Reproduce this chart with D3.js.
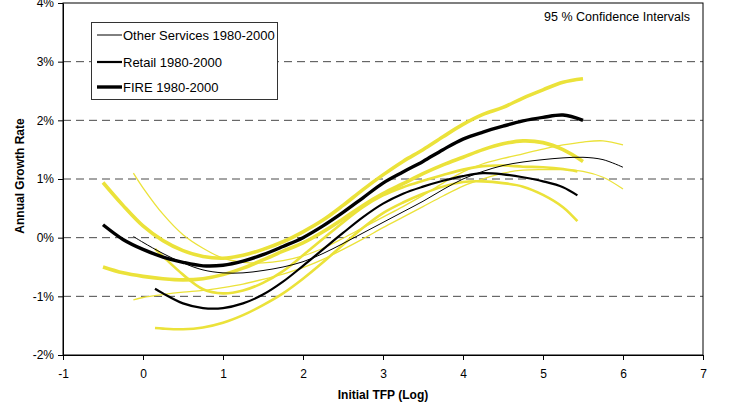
<!DOCTYPE html>
<html><head><meta charset="utf-8">
<script src="https://cdn.jsdelivr.net/npm/d3@7"></script>
<style>body{margin:0;background:#fff}svg{display:block;font-family:"Liberation Sans",Arial,sans-serif}</style>
</head><body><svg id="c" width="730" height="410"></svg>
<script>
// ---- data ----
const fireX  = [-0.5,-0.25,0,0.25,0.5,0.75,1,1.25,1.5,1.75,2,2.25,2.5,2.75,3,3.25,3.5,3.75,4,4.25,4.5,4.75,5,5.25,5.5];
const fire   = [0.22,-0.03,-0.2,-0.33,-0.42,-0.48,-0.47,-0.4,-0.29,-0.15,0.0,0.2,0.43,0.68,0.93,1.12,1.3,1.5,1.68,1.8,1.9,1.99,2.05,2.09,2.0];
const fireUp = [0.94,0.55,0.2,-0.05,-0.22,-0.32,-0.35,-0.3,-0.2,-0.07,0.1,0.3,0.55,0.82,1.07,1.3,1.5,1.72,1.93,2.1,2.22,2.38,2.52,2.65,2.71];
const fireLo = [-0.5,-0.6,-0.66,-0.7,-0.72,-0.7,-0.63,-0.52,-0.38,-0.23,-0.09,0.1,0.32,0.55,0.75,0.92,1.09,1.24,1.37,1.5,1.6,1.65,1.62,1.5,1.3];

const retailX  = [0.15,0.25,0.5,0.75,1,1.25,1.5,1.75,2,2.25,2.5,2.75,3,3.25,3.5,3.75,4,4.25,4.5,4.75,5,5.25,5.43];
const retail   = [-0.87,-0.95,-1.12,-1.2,-1.2,-1.12,-0.97,-0.75,-0.48,-0.2,0.08,0.35,0.58,0.75,0.87,0.97,1.05,1.1,1.08,1.03,0.96,0.86,0.72];
const retailUp = [-0.19,-0.32,-0.63,-0.88,-0.95,-0.9,-0.77,-0.57,-0.3,-0.02,0.26,0.52,0.72,0.86,0.97,1.07,1.16,1.22,1.23,1.21,1.2,1.17,1.13];
const retailLo = [-1.54,-1.55,-1.56,-1.53,-1.45,-1.32,-1.15,-0.95,-0.7,-0.42,-0.12,0.17,0.42,0.6,0.75,0.87,0.95,0.96,0.93,0.87,0.73,0.52,0.28];

const otherX  = [-0.12,0,0.25,0.5,0.75,1,1.25,1.5,1.75,2,2.25,2.5,2.75,3,3.25,3.5,3.75,4,4.25,4.5,4.75,5,5.25,5.5,5.75,6];
const other   = [0.02,-0.08,-0.27,-0.43,-0.55,-0.6,-0.6,-0.56,-0.5,-0.41,-0.27,-0.1,0.08,0.26,0.44,0.62,0.82,1.0,1.13,1.23,1.29,1.33,1.36,1.37,1.33,1.2];
const otherUp = [1.1,0.85,0.4,0.05,-0.18,-0.35,-0.42,-0.43,-0.39,-0.31,-0.18,-0.01,0.17,0.35,0.53,0.72,0.93,1.12,1.26,1.35,1.43,1.51,1.58,1.63,1.65,1.58];
const otherLo = [-1.06,-1.02,-0.97,-0.93,-0.9,-0.85,-0.79,-0.71,-0.62,-0.51,-0.37,-0.2,-0.02,0.17,0.35,0.53,0.71,0.88,1.0,1.1,1.15,1.16,1.16,1.13,1.03,0.83];

const xTicks = [-1,0,1,2,3,4,5,6,7];
const yTicks = [-2,-1,0,1,2,3,4];
const legendLabels = ["Other Services 1980-2000","Retail 1980-2000","FIRE 1980-2000"];
const ciLabel = "95 % Confidence Intervals";
const xTitle = "Initial TFP (Log)";
const yTitle = "Annual Growth Rate";

// ---- drawing ----
const svg = d3.select("#c");
const L = 63, R = 703, T = 3, B = 355;
const x = d3.scaleLinear().domain([-1,7]).range([L,R]);
const y = d3.scaleLinear().domain([-2,4]).range([B,T]);
const yellow = "#ebe23a";

// gridlines
svg.append("g").selectAll("line").data(yTicks.filter(d=>d>-2&&d<4)).join("line")
  .attr("x1",L).attr("x2",R).attr("y1",d=>y(d)).attr("y2",d=>y(d))
  .attr("stroke","#4a4a4a").attr("stroke-width",1).attr("stroke-dasharray","8,5");

// plot border
svg.append("rect").attr("x",L).attr("y",T).attr("width",R-L).attr("height",B-T)
  .attr("fill","none").attr("stroke","#000").attr("stroke-width",1);

const line = (xs) => d3.line().x((d,i)=>x(xs[i])).y(d=>y(d)).curve(d3.curveCatmullRom.alpha(0.5));

const series = [
  {xs: otherX, v: otherUp, c: yellow, w: 1.3},
  {xs: otherX, v: otherLo, c: yellow, w: 1.3},
  {xs: retailX, v: retailUp, c: yellow, w: 2.6},
  {xs: retailX, v: retailLo, c: yellow, w: 2.6},
  {xs: fireX, v: fireUp, c: yellow, w: 3.6},
  {xs: fireX, v: fireLo, c: yellow, w: 3.6},
  {xs: otherX, v: other, c: "#000", w: 1},
  {xs: retailX, v: retail, c: "#000", w: 2.2},
  {xs: fireX, v: fire, c: "#000", w: 3.4}
];
svg.append("g").selectAll("path").data(series).join("path")
  .attr("d", s => line(s.xs)(s.v))
  .attr("fill","none").attr("stroke",s=>s.c).attr("stroke-width",s=>s.w)
  .attr("stroke-linejoin","round").attr("stroke-linecap","butt");

// axes
const yAxis = d3.axisLeft(y).tickValues(yTicks).tickFormat(d=>d+"%").tickSize(5).tickSizeOuter(0);
const gy = svg.append("g").attr("transform",`translate(${L},0)`).call(yAxis);
const xAxis = d3.axisBottom(x).tickValues(xTicks).tickFormat(d=>d).tickSize(5).tickSizeOuter(0);
const gx = svg.append("g").attr("transform",`translate(0,${B})`).call(xAxis);
[gy,gx].forEach(g=>{
  g.select(".domain").attr("stroke","#000");
  g.selectAll(".tick line").attr("stroke","#000");
  g.selectAll("text").attr("fill","#000").attr("font-size","12px").attr("font-family","Liberation Sans, Arial, sans-serif");
});
gy.selectAll("text").attr("x",-9);
gx.selectAll("text").attr("y",14);

svg.append("text").attr("x",(L+R)/2).attr("y",399).attr("text-anchor","middle")
  .attr("font-size","12px").attr("font-weight","bold").text(xTitle);
svg.append("text").attr("transform","translate(24,176) rotate(-90)").attr("text-anchor","middle")
  .attr("font-size","12px").attr("font-weight","bold").text(yTitle);

svg.append("text").attr("x",690).attr("y",21).attr("text-anchor","end")
  .attr("font-size","12.5px").text(ciLabel);

// legend
const lg = svg.append("g");
lg.append("rect").attr("x",91.5).attr("y",22.5).attr("width",186).attr("height",77)
  .attr("fill","#fff").attr("stroke","#333").attr("stroke-width",1);
const lw = [1,2.2,3.4];
const ly = [35,62,87];
lg.selectAll("line").data(legendLabels).join("line")
  .attr("x1",97).attr("x2",122).attr("y1",(d,i)=>ly[i]).attr("y2",(d,i)=>ly[i])
  .attr("stroke","#000").attr("stroke-width",(d,i)=>lw[i]);
lg.selectAll("text").data(legendLabels).join("text")
  .attr("x",123).attr("y",(d,i)=>ly[i]+4.5).attr("font-size","13px").text(d=>d);
</script></body></html>
